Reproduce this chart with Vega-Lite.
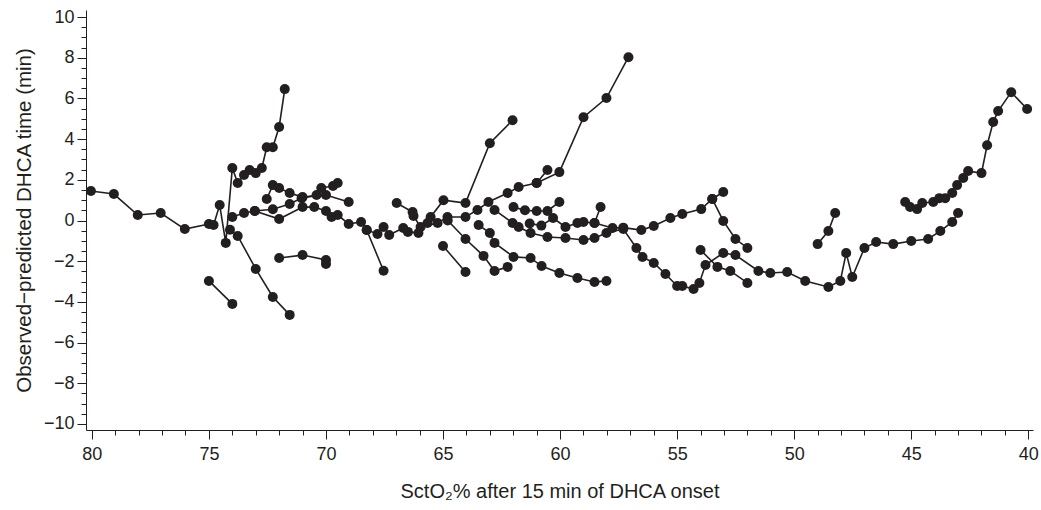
{
  "$schema": "https://vega.github.io/schema/vega-lite/v6.json",
  "width": 947,
  "height": 420,
  "autosize": {"type": "none"},
  "padding": {"left": 86, "top": 10, "right": 8, "bottom": 80},
  "background": "white",
  "config": {"view": {"stroke": null}, "font": "Liberation Sans"},
  "data": {"values": [
    {"s":"c1","x":80.04,"y":1.45},{"s":"c1","x":79.06,"y":1.3},{"s":"c1","x":78.04,"y":0.27},{"s":"c1","x":77.06,"y":0.37},{"s":"c1","x":76.03,"y":-0.42},{"s":"c1","x":75.0,"y":-0.17},{"s":"c1","x":74.8,"y":-0.22},{"s":"c1","x":74.54,"y":0.76},{"s":"c1","x":74.28,"y":-1.1},{"s":"c1","x":74.0,"y":2.58},{"s":"c1","x":73.77,"y":1.84},{"s":"c1","x":73.5,"y":2.24},{"s":"c1","x":73.26,"y":2.48},{"s":"c1","x":73.0,"y":2.33},{"s":"c1","x":72.74,"y":2.58},{"s":"c1","x":72.53,"y":3.6},{"s":"c1","x":72.27,"y":3.6},{"s":"c1","x":72.0,"y":4.6},{"s":"c1","x":71.76,"y":6.46},
    {"s":"c2","x":74.1,"y":-0.45},{"s":"c2","x":73.77,"y":-0.76},{"s":"c2","x":73.0,"y":-2.38},{"s":"c2","x":72.27,"y":-3.76},{"s":"c2","x":71.55,"y":-4.64},
    {"s":"c3","x":75.0,"y":-2.97},{"s":"c3","x":74.0,"y":-4.1},
    {"s":"c4","x":72.0,"y":-1.84},{"s":"c4","x":71.0,"y":-1.7},{"s":"c4","x":70.0,"y":-1.94},{"s":"c4","x":70.0,"y":-2.14},
    {"s":"c5","x":74.0,"y":0.17},{"s":"c5","x":73.5,"y":0.37},{"s":"c5","x":73.04,"y":0.47},{"s":"c5","x":72.27,"y":0.55},{"s":"c5","x":71.55,"y":0.81},{"s":"c5","x":71.04,"y":1.1},{"s":"c5","x":70.4,"y":1.25},{"s":"c5","x":70.2,"y":1.6},{"s":"c5","x":69.7,"y":1.7},{"s":"c5","x":69.5,"y":1.84},
    {"s":"c6","x":72.53,"y":1.06},{"s":"c6","x":72.27,"y":1.74},{"s":"c6","x":72.0,"y":1.6},{"s":"c6","x":71.55,"y":1.35},{"s":"c6","x":71.0,"y":1.15},{"s":"c6","x":70.0,"y":1.25},{"s":"c6","x":69.03,"y":0.91},
    {"s":"c7","x":73.04,"y":0.47},{"s":"c7","x":72.0,"y":0.07},{"s":"c7","x":71.0,"y":0.66},{"s":"c7","x":70.5,"y":0.66},{"s":"c7","x":70.0,"y":0.47},{"s":"c7","x":69.76,"y":0.17},{"s":"c7","x":69.5,"y":0.27},{"s":"c7","x":69.03,"y":-0.17},{"s":"c7","x":68.5,"y":-0.07},{"s":"c7","x":68.26,"y":-0.47},{"s":"c7","x":67.54,"y":-2.47},
    {"s":"c8","x":68.26,"y":-0.47},{"s":"c8","x":67.8,"y":-0.66},{"s":"c8","x":67.54,"y":-0.32},{"s":"c8","x":67.3,"y":-0.71},{"s":"c8","x":66.7,"y":-0.37},{"s":"c8","x":66.5,"y":-0.56},{"s":"c8","x":66.05,"y":-0.61},{"s":"c8","x":65.66,"y":-0.12},{"s":"c8","x":65.53,"y":0.17},{"s":"c8","x":64.98,"y":1.0},{"s":"c8","x":64.04,"y":0.86},{"s":"c8","x":63.0,"y":3.8},{"s":"c8","x":62.03,"y":4.93},
    {"s":"c9","x":66.98,"y":0.86},{"s":"c9","x":66.3,"y":0.42},{"s":"c9","x":66.26,"y":0.22},{"s":"c9","x":65.96,"y":-0.32},{"s":"c9","x":65.23,"y":-0.12},{"s":"c9","x":64.81,"y":0.17},{"s":"c9","x":64.04,"y":0.17},{"s":"c9","x":63.53,"y":0.52},{"s":"c9","x":63.06,"y":0.91},{"s":"c9","x":62.24,"y":1.35},{"s":"c9","x":61.77,"y":1.65},{"s":"c9","x":61.0,"y":1.84},{"s":"c9","x":60.03,"y":2.38},{"s":"c9","x":59.0,"y":5.08},{"s":"c9","x":58.02,"y":6.02},{"s":"c9","x":57.08,"y":8.03},
    {"s":"c10","x":61.0,"y":1.84},{"s":"c10","x":60.54,"y":2.48},
    {"s":"c11","x":65.0,"y":-1.25},{"s":"c11","x":64.04,"y":-2.53},
    {"s":"c12","x":64.8,"y":0.0},{"s":"c12","x":64.04,"y":-0.91},{"s":"c12","x":63.27,"y":-1.74},{"s":"c12","x":62.8,"y":-2.48},{"s":"c12","x":62.24,"y":-2.28},
    {"s":"c13","x":63.48,"y":-0.22},{"s":"c13","x":63.0,"y":-0.61},{"s":"c13","x":62.8,"y":-1.1},{"s":"c13","x":61.99,"y":-1.79},{"s":"c13","x":61.26,"y":-1.84},{"s":"c13","x":60.79,"y":-2.24},{"s":"c13","x":60.03,"y":-2.58},{"s":"c13","x":59.26,"y":-2.83},{"s":"c13","x":58.53,"y":-3.02},{"s":"c13","x":58.02,"y":-2.97},
    {"s":"c14","x":62.8,"y":0.52},{"s":"c14","x":62.03,"y":-0.12},{"s":"c14","x":61.77,"y":-0.32},{"s":"c14","x":61.26,"y":-0.61},{"s":"c14","x":60.54,"y":-0.81},{"s":"c14","x":59.77,"y":-0.86},{"s":"c14","x":59.0,"y":-0.96},{"s":"c14","x":58.53,"y":-0.86},{"s":"c14","x":58.02,"y":-0.61},{"s":"c14","x":57.3,"y":-0.42},{"s":"c14","x":56.74,"y":-1.35},{"s":"c14","x":56.48,"y":-1.79},{"s":"c14","x":56.0,"y":-2.09},{"s":"c14","x":55.5,"y":-2.63},{"s":"c14","x":55.0,"y":-3.22},{"s":"c14","x":54.78,"y":-3.22},{"s":"c14","x":54.3,"y":-3.37},{"s":"c14","x":54.05,"y":-3.07},{"s":"c14","x":53.79,"y":-2.19},{"s":"c14","x":53.03,"y":-1.6},{"s":"c14","x":52.51,"y":-1.7},{"s":"c14","x":51.53,"y":-2.48},{"s":"c14","x":51.02,"y":-2.58},{"s":"c14","x":50.3,"y":-2.53},{"s":"c14","x":49.53,"y":-2.97},{"s":"c14","x":48.54,"y":-3.27},{"s":"c14","x":48.03,"y":-2.97},{"s":"c14","x":47.78,"y":-1.6},{"s":"c14","x":47.52,"y":-2.78},{"s":"c14","x":47.0,"y":-1.35},{"s":"c14","x":46.5,"y":-1.06},{"s":"c14","x":45.77,"y":-1.16},{"s":"c14","x":45.0,"y":-1.01},{"s":"c14","x":44.28,"y":-0.91},{"s":"c14","x":43.76,"y":-0.52},{"s":"c14","x":43.25,"y":-0.07},{"s":"c14","x":43.0,"y":0.37},
    {"s":"c15","x":61.3,"y":-0.15},{"s":"c15","x":60.8,"y":-0.25},{"s":"c15","x":60.3,"y":0.12},{"s":"c15","x":59.77,"y":-0.32},{"s":"c15","x":59.26,"y":-0.12},{"s":"c15","x":59.0,"y":-0.07},{"s":"c15","x":58.53,"y":-0.12},{"s":"c15","x":58.27,"y":0.66},
    {"s":"c16","x":61.99,"y":0.66},{"s":"c16","x":61.5,"y":0.5},{"s":"c16","x":61.0,"y":0.47},{"s":"c16","x":60.54,"y":0.47},{"s":"c16","x":60.03,"y":0.91},
    {"s":"c17","x":58.53,"y":-0.12},{"s":"c17","x":57.76,"y":-0.37},{"s":"c17","x":57.3,"y":-0.35},{"s":"c17","x":56.53,"y":-0.47},{"s":"c17","x":56.0,"y":-0.27},{"s":"c17","x":55.29,"y":0.12},{"s":"c17","x":54.78,"y":0.32},{"s":"c17","x":53.97,"y":0.56},{"s":"c17","x":53.5,"y":1.06},{"s":"c17","x":53.03,"y":1.4},
    {"s":"c18","x":53.5,"y":1.06},{"s":"c18","x":53.03,"y":-0.02},{"s":"c18","x":52.51,"y":-0.91},{"s":"c18","x":52.0,"y":-1.35},
    {"s":"c19","x":54.0,"y":-1.45},{"s":"c19","x":53.28,"y":-2.28},{"s":"c19","x":52.73,"y":-2.48},{"s":"c19","x":52.0,"y":-3.07},
    {"s":"c20","x":49.0,"y":-1.16},{"s":"c20","x":48.54,"y":-0.52},{"s":"c20","x":48.25,"y":0.37},
    {"s":"c21","x":45.26,"y":0.91},{"s":"c21","x":45.05,"y":0.66},{"s":"c21","x":44.75,"y":0.56},{"s":"c21","x":44.53,"y":0.86},{"s":"c21","x":44.06,"y":0.91},{"s":"c21","x":43.8,"y":1.1},{"s":"c21","x":43.55,"y":1.1},{"s":"c21","x":43.25,"y":1.35},{"s":"c21","x":43.04,"y":1.74},{"s":"c21","x":42.78,"y":2.09},{"s":"c21","x":42.57,"y":2.43},{"s":"c21","x":42.0,"y":2.33},{"s":"c21","x":41.76,"y":3.7},{"s":"c21","x":41.5,"y":4.84},{"s":"c21","x":41.29,"y":5.38},{"s":"c21","x":40.73,"y":6.31},{"s":"c21","x":40.05,"y":5.48}
  ]},
  "resolve": {"axis": {"x": "independent", "y": "independent"}},
  "layer": [
    {
      "mark": {"type": "line", "color": "#231f20", "strokeWidth": 1.6},
      "encoding": {
        "x": {"field": "x", "type": "quantitative",
              "scale": {"domain": [39.8, 80.25], "reverse": true, "nice": false, "zero": false},
              "axis": {"values": [40, 45, 50, 55, 60, 65, 70, 75, 80], "orient": "bottom",
                       "title": "SctO₂% after 15 min of DHCA onset", "titleFont": "Liberation Sans", "titleFontSize": 20,
                       "titleFontWeight": "normal", "titleColor": "#231f20", "titlePadding": 18,
                       "labelFont": "Liberation Sans", "labelFontSize": 18, "labelColor": "#231f20", "labelPadding": 6,
                       "tickSize": 9, "tickColor": "#231f20", "domainColor": "#231f20", "grid": false, "labelFlush": false}},
        "y": {"field": "y", "type": "quantitative",
              "scale": {"domain": [-10.3, 10.35], "nice": false, "zero": false},
              "axis": {"values": [-10, -8, -6, -4, -2, 0, 2, 4, 6, 8, 10],
                       "title": "Observed−predicted DHCA time (min)", "titleFont": "Liberation Sans", "titleFontSize": 20.5,
                       "titleFontWeight": "normal", "titleColor": "#231f20", "titlePadding": 9,
                       "labelFont": "Liberation Sans", "labelFontSize": 18, "labelColor": "#231f20", "labelPadding": 3,
                       "tickSize": 9, "tickColor": "#231f20", "domainColor": "#231f20", "grid": false}},
        "detail": {"field": "s", "type": "nominal"},
        "order": {"value": null}
      }
    },
    {
      "mark": {"type": "point", "filled": true, "color": "#231f20", "size": 100, "opacity": 1},
      "encoding": {
        "x": {"field": "x", "type": "quantitative",
              "axis": {"values": [40,41,42,43,44,45,46,47,48,49,50,51,52,53,54,55,56,57,58,59,60,61,62,63,64,65,66,67,68,69,70,71,72,73,74,75,76,77,78,79,80],
                       "orient": "bottom", "labels": false, "domain": false, "title": null, "tickSize": 5, "tickColor": "#231f20", "grid": false}},
        "y": {"field": "y", "type": "quantitative",
              "axis": {"values": [-10,-9.5,-9,-8.5,-8,-7.5,-7,-6.5,-6,-5.5,-5,-4.5,-4,-3.5,-3,-2.5,-2,-1.5,-1,-0.5,0,0.5,1,1.5,2,2.5,3,3.5,4,4.5,5,5.5,6,6.5,7,7.5,8,8.5,9,9.5,10],
                       "orient": "left", "labels": false, "domain": false, "title": null, "tickSize": 5, "tickColor": "#231f20", "grid": false}}
      }
    }
  ]
}
